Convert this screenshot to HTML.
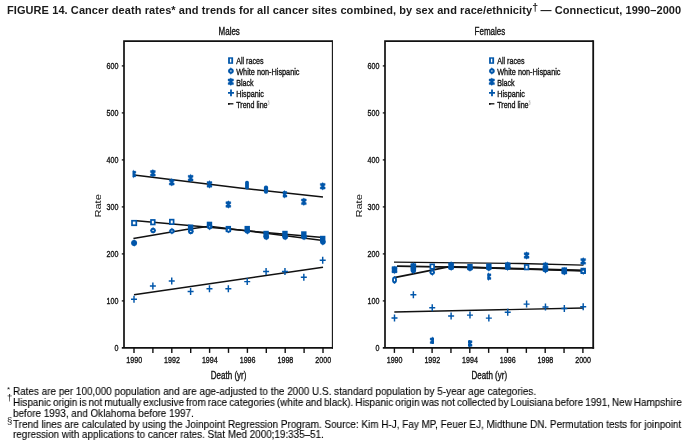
<!DOCTYPE html>
<html lang="en">
<head>
<meta charset="utf-8">
<title>FIGURE 14. Cancer death rates and trends for all cancer sites combined</title>
<style>
html,body{margin:0;padding:0;background:#fff;}
body{width:692px;height:446px;overflow:hidden;position:relative;font-family:"Liberation Sans",Arial,Helvetica,sans-serif;color:#111;}
svg{position:absolute;left:0;top:0;display:block;will-change:transform;font-family:"Liberation Sans",Arial,Helvetica,sans-serif;}
.ttl,.fn,.mk{will-change:transform;}
.ttl{position:absolute;left:7.2px;top:3.6px;margin:0;font-size:11px;font-weight:bold;line-height:13px;white-space:nowrap;letter-spacing:0.081px;color:#1a1a1a;}
.ttl sup{font-size:10.5px;line-height:0;vertical-align:2.6px;letter-spacing:-0.6px;}
.fn{position:absolute;left:13.1px;margin:0;font-size:10.67px;line-height:11px;transform-origin:0 0;white-space:nowrap;color:#000;-webkit-text-stroke:0.12px #000;}
.mk{position:absolute;font-size:8px;line-height:8px;color:#111;}
</style>
</head>
<body>
<svg width="692" height="446" viewBox="0 0 692 446">
<path d="M124.0 347.9V41.1H332.4" stroke="#111" stroke-width="1.7" fill="none" stroke-linejoin="miter"/>
<path d="M332.4 40.25V348.7" stroke="#111" stroke-width="1.1" fill="none"/>
<path d="M121.8 347.9H332.95" stroke="#111" stroke-width="1.6" fill="none"/>
<text transform="translate(118.4,351.04999999999995) scale(0.757,1)" font-size="9.4" text-anchor="end" fill="#111" stroke="#111" stroke-width="0.35" >0</text>
<path d="M121.8 300.9H124.0" stroke="#111" stroke-width="1.3"/>
<text transform="translate(118.4,304.04999999999995) scale(0.757,1)" font-size="9.4" text-anchor="end" fill="#111" stroke="#111" stroke-width="0.35" >100</text>
<path d="M121.8 253.89999999999998H124.0" stroke="#111" stroke-width="1.3"/>
<text transform="translate(118.4,257.04999999999995) scale(0.757,1)" font-size="9.4" text-anchor="end" fill="#111" stroke="#111" stroke-width="0.35" >200</text>
<path d="M121.8 206.89999999999998H124.0" stroke="#111" stroke-width="1.3"/>
<text transform="translate(118.4,210.04999999999998) scale(0.757,1)" font-size="9.4" text-anchor="end" fill="#111" stroke="#111" stroke-width="0.35" >300</text>
<path d="M121.8 159.89999999999998H124.0" stroke="#111" stroke-width="1.3"/>
<text transform="translate(118.4,163.04999999999998) scale(0.757,1)" font-size="9.4" text-anchor="end" fill="#111" stroke="#111" stroke-width="0.35" >400</text>
<path d="M121.8 112.89999999999998H124.0" stroke="#111" stroke-width="1.3"/>
<text transform="translate(118.4,116.04999999999998) scale(0.757,1)" font-size="9.4" text-anchor="end" fill="#111" stroke="#111" stroke-width="0.35" >500</text>
<path d="M121.8 65.89999999999998H124.0" stroke="#111" stroke-width="1.3"/>
<text transform="translate(118.4,69.04999999999998) scale(0.757,1)" font-size="9.4" text-anchor="end" fill="#111" stroke="#111" stroke-width="0.35" >600</text>
<path d="M134.00 347.9V352.9" stroke="#111" stroke-width="1.4"/>
<text transform="translate(134.2,362.9) scale(0.757,1)" font-size="9.4" text-anchor="middle" fill="#111" stroke="#111" stroke-width="0.35" >1990</text>
<path d="M152.90 347.9V352.9" stroke="#111" stroke-width="1.4"/>
<path d="M171.80 347.9V352.9" stroke="#111" stroke-width="1.4"/>
<text transform="translate(172.0,362.9) scale(0.757,1)" font-size="9.4" text-anchor="middle" fill="#111" stroke="#111" stroke-width="0.35" >1992</text>
<path d="M190.70 347.9V352.9" stroke="#111" stroke-width="1.4"/>
<path d="M209.60 347.9V352.9" stroke="#111" stroke-width="1.4"/>
<text transform="translate(209.8,362.9) scale(0.757,1)" font-size="9.4" text-anchor="middle" fill="#111" stroke="#111" stroke-width="0.35" >1994</text>
<path d="M228.50 347.9V352.9" stroke="#111" stroke-width="1.4"/>
<path d="M247.40 347.9V352.9" stroke="#111" stroke-width="1.4"/>
<text transform="translate(247.6,362.9) scale(0.757,1)" font-size="9.4" text-anchor="middle" fill="#111" stroke="#111" stroke-width="0.35" >1996</text>
<path d="M266.30 347.9V352.9" stroke="#111" stroke-width="1.4"/>
<path d="M285.20 347.9V352.9" stroke="#111" stroke-width="1.4"/>
<text transform="translate(285.4,362.9) scale(0.757,1)" font-size="9.4" text-anchor="middle" fill="#111" stroke="#111" stroke-width="0.35" >1998</text>
<path d="M304.10 347.9V352.9" stroke="#111" stroke-width="1.4"/>
<path d="M323.00 347.9V352.9" stroke="#111" stroke-width="1.4"/>
<text transform="translate(323.2,362.9) scale(0.757,1)" font-size="9.4" text-anchor="middle" fill="#111" stroke="#111" stroke-width="0.35" >2000</text>
<text transform="translate(229.2,34.9) scale(0.77,1)" font-size="10.4" text-anchor="middle" fill="#111" stroke="#111" stroke-width="0.35" >Males</text>
<text transform="translate(228.6,378.7) scale(0.77,1)" font-size="10.4" text-anchor="middle" fill="#111" stroke="#111" stroke-width="0.35" >Death (yr)</text>
<text transform="translate(101.3,205.9) rotate(-90) scale(1.14,1)" font-size="9.7" text-anchor="middle" fill="#111">Rate</text>
<rect x="228.10000000000002" y="57.3" width="5" height="6.5" fill="#0056aa"/><rect x="229.90000000000003" y="58.7" width="1.4" height="3.7" fill="#fff"/>
<text transform="translate(236.2,63.7) scale(0.757,1)" font-size="9.4" text-anchor="start" fill="#111" stroke="#111" stroke-width="0.35" >All races</text>
<circle cx="230.90" cy="71.00" r="2.75" fill="#0056aa"/><path d="M230.90 66.95 L232.40 71.00 L230.90 75.05 L229.40 71.00Z M227.70 71.00 L230.90 69.50 L234.10 71.00 L230.90 72.50Z" fill="#0056aa"/><circle cx="230.90" cy="71.00" r="0.7" fill="#fff"/>
<text transform="translate(236.2,74.8) scale(0.778,1)" font-size="9.4" text-anchor="start" fill="#111" stroke="#111" stroke-width="0.35" >White non-Hispanic</text>
<path d="M230.80 78.00 L231.75 78.85 L233.55 79.00 L233.55 80.95 L232.05 81.50 L232.05 82.10 L233.55 82.65 L233.55 84.60 L231.75 84.75 L230.80 85.60 L229.85 84.75 L228.05 84.60 L228.05 82.65 L229.55 82.10 L229.55 81.50 L228.05 80.95 L228.05 79.00 L229.85 78.85Z" fill="#0056aa" stroke="#0056aa" stroke-width="0.3" stroke-linejoin="round"/>
<text transform="translate(236.2,85.7) scale(0.757,1)" font-size="9.4" text-anchor="start" fill="#111" stroke="#111" stroke-width="0.35" >Black</text>
<path d="M231.00 89.60V96.20M228.00 92.90H234.00" stroke="#0056aa" stroke-width="1.8" fill="none"/>
<text transform="translate(236.2,96.7) scale(0.77,1)" font-size="9.4" text-anchor="start" fill="#111" stroke="#111" stroke-width="0.35" >Hispanic</text>
<path d="M228.0 103.8H233.4" stroke="#111" stroke-width="1.3"/><path d="M228.0 103.9H229.60000000000002" stroke="#111" stroke-width="1.9"/>
<text transform="translate(236.2,107.5) scale(0.757,1)" font-size="9.4" text-anchor="start" fill="#111" stroke="#111" stroke-width="0.35" >Trend line<tspan font-size="5" dy="-4" fill="#999" stroke="none">§</tspan></text>
<path d="M385.0 347.9V41.1H593.2" stroke="#111" stroke-width="1.7" fill="none" stroke-linejoin="miter"/>
<path d="M593.2 40.25V348.7" stroke="#111" stroke-width="1.8" fill="none"/>
<path d="M382.8 347.9H594.1" stroke="#111" stroke-width="1.6" fill="none"/>
<text transform="translate(379.4,351.04999999999995) scale(0.757,1)" font-size="9.4" text-anchor="end" fill="#111" stroke="#111" stroke-width="0.35" >0</text>
<path d="M382.8 300.9H385.0" stroke="#111" stroke-width="1.3"/>
<text transform="translate(379.4,304.04999999999995) scale(0.757,1)" font-size="9.4" text-anchor="end" fill="#111" stroke="#111" stroke-width="0.35" >100</text>
<path d="M382.8 253.89999999999998H385.0" stroke="#111" stroke-width="1.3"/>
<text transform="translate(379.4,257.04999999999995) scale(0.757,1)" font-size="9.4" text-anchor="end" fill="#111" stroke="#111" stroke-width="0.35" >200</text>
<path d="M382.8 206.89999999999998H385.0" stroke="#111" stroke-width="1.3"/>
<text transform="translate(379.4,210.04999999999998) scale(0.757,1)" font-size="9.4" text-anchor="end" fill="#111" stroke="#111" stroke-width="0.35" >300</text>
<path d="M382.8 159.89999999999998H385.0" stroke="#111" stroke-width="1.3"/>
<text transform="translate(379.4,163.04999999999998) scale(0.757,1)" font-size="9.4" text-anchor="end" fill="#111" stroke="#111" stroke-width="0.35" >400</text>
<path d="M382.8 112.89999999999998H385.0" stroke="#111" stroke-width="1.3"/>
<text transform="translate(379.4,116.04999999999998) scale(0.757,1)" font-size="9.4" text-anchor="end" fill="#111" stroke="#111" stroke-width="0.35" >500</text>
<path d="M382.8 65.89999999999998H385.0" stroke="#111" stroke-width="1.3"/>
<text transform="translate(379.4,69.04999999999998) scale(0.757,1)" font-size="9.4" text-anchor="end" fill="#111" stroke="#111" stroke-width="0.35" >600</text>
<path d="M394.40 347.9V352.9" stroke="#111" stroke-width="1.4"/>
<text transform="translate(394.6,362.9) scale(0.757,1)" font-size="9.4" text-anchor="middle" fill="#111" stroke="#111" stroke-width="0.35" >1990</text>
<path d="M413.25 347.9V352.9" stroke="#111" stroke-width="1.4"/>
<path d="M432.10 347.9V352.9" stroke="#111" stroke-width="1.4"/>
<text transform="translate(432.3,362.9) scale(0.757,1)" font-size="9.4" text-anchor="middle" fill="#111" stroke="#111" stroke-width="0.35" >1992</text>
<path d="M450.95 347.9V352.9" stroke="#111" stroke-width="1.4"/>
<path d="M469.80 347.9V352.9" stroke="#111" stroke-width="1.4"/>
<text transform="translate(470.0,362.9) scale(0.757,1)" font-size="9.4" text-anchor="middle" fill="#111" stroke="#111" stroke-width="0.35" >1994</text>
<path d="M488.65 347.9V352.9" stroke="#111" stroke-width="1.4"/>
<path d="M507.50 347.9V352.9" stroke="#111" stroke-width="1.4"/>
<text transform="translate(507.7,362.9) scale(0.757,1)" font-size="9.4" text-anchor="middle" fill="#111" stroke="#111" stroke-width="0.35" >1996</text>
<path d="M526.35 347.9V352.9" stroke="#111" stroke-width="1.4"/>
<path d="M545.20 347.9V352.9" stroke="#111" stroke-width="1.4"/>
<text transform="translate(545.4,362.9) scale(0.757,1)" font-size="9.4" text-anchor="middle" fill="#111" stroke="#111" stroke-width="0.35" >1998</text>
<path d="M564.05 347.9V352.9" stroke="#111" stroke-width="1.4"/>
<path d="M582.90 347.9V352.9" stroke="#111" stroke-width="1.4"/>
<text transform="translate(583.1,362.9) scale(0.757,1)" font-size="9.4" text-anchor="middle" fill="#111" stroke="#111" stroke-width="0.35" >2000</text>
<text transform="translate(489.9,34.9) scale(0.77,1)" font-size="10.4" text-anchor="middle" fill="#111" stroke="#111" stroke-width="0.35" >Females</text>
<text transform="translate(489.29999999999995,378.7) scale(0.77,1)" font-size="10.4" text-anchor="middle" fill="#111" stroke="#111" stroke-width="0.35" >Death (yr)</text>
<text transform="translate(362.3,205.9) rotate(-90) scale(1.14,1)" font-size="9.7" text-anchor="middle" fill="#111">Rate</text>
<rect x="489.1" y="57.3" width="5" height="6.5" fill="#0056aa"/><rect x="490.90000000000003" y="58.7" width="1.4" height="3.7" fill="#fff"/>
<text transform="translate(497.2,63.7) scale(0.757,1)" font-size="9.4" text-anchor="start" fill="#111" stroke="#111" stroke-width="0.35" >All races</text>
<circle cx="491.90" cy="71.00" r="2.75" fill="#0056aa"/><path d="M491.90 66.95 L493.40 71.00 L491.90 75.05 L490.40 71.00Z M488.70 71.00 L491.90 69.50 L495.10 71.00 L491.90 72.50Z" fill="#0056aa"/><circle cx="491.90" cy="71.00" r="0.7" fill="#fff"/>
<text transform="translate(497.2,74.8) scale(0.778,1)" font-size="9.4" text-anchor="start" fill="#111" stroke="#111" stroke-width="0.35" >White non-Hispanic</text>
<path d="M491.80 78.00 L492.75 78.85 L494.55 79.00 L494.55 80.95 L493.05 81.50 L493.05 82.10 L494.55 82.65 L494.55 84.60 L492.75 84.75 L491.80 85.60 L490.85 84.75 L489.05 84.60 L489.05 82.65 L490.55 82.10 L490.55 81.50 L489.05 80.95 L489.05 79.00 L490.85 78.85Z" fill="#0056aa" stroke="#0056aa" stroke-width="0.3" stroke-linejoin="round"/>
<text transform="translate(497.2,85.7) scale(0.757,1)" font-size="9.4" text-anchor="start" fill="#111" stroke="#111" stroke-width="0.35" >Black</text>
<path d="M492.00 89.60V96.20M489.00 92.90H495.00" stroke="#0056aa" stroke-width="1.8" fill="none"/>
<text transform="translate(497.2,96.7) scale(0.77,1)" font-size="9.4" text-anchor="start" fill="#111" stroke="#111" stroke-width="0.35" >Hispanic</text>
<path d="M489.0 103.8H494.40000000000003" stroke="#111" stroke-width="1.3"/><path d="M489.0 103.9H490.6" stroke="#111" stroke-width="1.9"/>
<text transform="translate(497.2,107.5) scale(0.757,1)" font-size="9.4" text-anchor="start" fill="#111" stroke="#111" stroke-width="0.35" >Trend line<tspan font-size="5" dy="-4" fill="#999" stroke="none">§</tspan></text>
<path d="M134.00 175.10 L240.00 187.90 L323.00 197.10" stroke="#111" stroke-width="1.55" fill="none"/>
<path d="M136.50 220.80 L323.00 237.60" stroke="#111" stroke-width="1.5" fill="none"/>
<path d="M133.40 238.40 L186.00 229.40 L209.30 226.30 L323.00 240.40" stroke="#111" stroke-width="1.5" fill="none"/>
<path d="M134.00 294.80 L323.00 267.20" stroke="#111" stroke-width="1.55" fill="none"/>
<clipPath id="cm0"><rect x="132.5" y="160" width="20" height="30"/></clipPath>
<path d="M133.40 170.20 L134.35 171.05 L135.90 171.20 L135.90 173.15 L134.65 173.70 L134.65 174.30 L135.90 174.85 L135.90 176.80 L134.35 176.95 L133.40 177.80 L132.45 176.95 L130.90 176.80 L130.90 174.85 L132.15 174.30 L132.15 173.70 L130.90 173.15 L130.90 171.20 L132.45 171.05Z" fill="#0056aa" stroke="#0056aa" stroke-width="0.3" stroke-linejoin="round" clip-path="url(#cm0)"/>
<path d="M152.87 169.50 L153.82 170.35 L155.37 170.50 L155.37 172.45 L154.12 173.00 L154.12 173.60 L155.37 174.15 L155.37 176.10 L153.82 176.25 L152.87 177.10 L151.92 176.25 L150.37 176.10 L150.37 174.15 L151.62 173.60 L151.62 173.00 L150.37 172.45 L150.37 170.50 L151.92 170.35Z" fill="#0056aa" stroke="#0056aa" stroke-width="0.3" stroke-linejoin="round"/>
<path d="M171.74 178.40 L172.69 179.25 L174.24 179.40 L174.24 181.35 L172.99 181.90 L172.99 182.50 L174.24 183.05 L174.24 185.00 L172.69 185.15 L171.74 186.00 L170.79 185.15 L169.24 185.00 L169.24 183.05 L170.49 182.50 L170.49 181.90 L169.24 181.35 L169.24 179.40 L170.79 179.25Z" fill="#0056aa" stroke="#0056aa" stroke-width="0.3" stroke-linejoin="round"/>
<path d="M190.61 174.30 L191.56 175.15 L193.11 175.30 L193.11 177.25 L191.86 177.80 L191.86 178.40 L193.11 178.95 L193.11 180.90 L191.56 181.05 L190.61 181.90 L189.66 181.05 L188.11 180.90 L188.11 178.95 L189.36 178.40 L189.36 177.80 L188.11 177.25 L188.11 175.30 L189.66 175.15Z" fill="#0056aa" stroke="#0056aa" stroke-width="0.3" stroke-linejoin="round"/>
<path d="M209.48 180.60 L210.43 181.45 L211.98 181.60 L211.98 183.55 L210.73 184.10 L210.73 184.70 L211.98 185.25 L211.98 187.20 L210.43 187.35 L209.48 188.20 L208.53 187.35 L206.98 187.20 L206.98 185.25 L208.23 184.70 L208.23 184.10 L206.98 183.55 L206.98 181.60 L208.53 181.45Z" fill="#0056aa" stroke="#0056aa" stroke-width="0.3" stroke-linejoin="round"/>
<path d="M228.35 200.70 L229.30 201.55 L230.85 201.70 L230.85 203.65 L229.60 204.20 L229.60 204.80 L230.85 205.35 L230.85 207.30 L229.30 207.45 L228.35 208.30 L227.40 207.45 L225.85 207.30 L225.85 205.35 L227.10 204.80 L227.10 204.20 L225.85 203.65 L225.85 201.70 L227.40 201.55Z" fill="#0056aa" stroke="#0056aa" stroke-width="0.3" stroke-linejoin="round"/>
<rect x="245.1" y="180.8" width="3.8" height="8.6" rx="1.7" fill="#0056aa"/>
<rect x="263.9" y="185.6" width="4.2" height="8.1" rx="1.9" fill="#0056aa"/>
<clipPath id="cm8"><rect x="282.8" y="185" width="14" height="20"/></clipPath>
<path d="M284.50 190.50 L285.45 191.35 L287.00 191.50 L287.00 193.45 L285.75 194.00 L285.75 194.60 L287.00 195.15 L287.00 197.10 L285.45 197.25 L284.50 198.10 L283.55 197.25 L282.00 197.10 L282.00 195.15 L283.25 194.60 L283.25 194.00 L282.00 193.45 L282.00 191.50 L283.55 191.35Z" fill="#0056aa" stroke="#0056aa" stroke-width="0.3" stroke-linejoin="round" clip-path="url(#cm8)"/>
<path d="M303.83 198.00 L304.78 198.85 L306.33 199.00 L306.33 200.95 L305.08 201.50 L305.08 202.10 L306.33 202.65 L306.33 204.60 L304.78 204.75 L303.83 205.60 L302.88 204.75 L301.33 204.60 L301.33 202.65 L302.58 202.10 L302.58 201.50 L301.33 200.95 L301.33 199.00 L302.88 198.85Z" fill="#0056aa" stroke="#0056aa" stroke-width="0.3" stroke-linejoin="round"/>
<path d="M322.70 182.40 L323.65 183.25 L325.20 183.40 L325.20 185.35 L323.95 185.90 L323.95 186.50 L325.20 187.05 L325.20 189.00 L323.65 189.15 L322.70 190.00 L321.75 189.15 L320.20 189.00 L320.20 187.05 L321.45 186.50 L321.45 185.90 L320.20 185.35 L320.20 183.40 L321.75 183.25Z" fill="#0056aa" stroke="#0056aa" stroke-width="0.3" stroke-linejoin="round"/>
<path d="M134.00 295.70V302.70M131.00 299.20H137.00" stroke="#0056aa" stroke-width="1.45" fill="none"/>
<path d="M152.87 282.40V289.40M149.87 285.90H155.87" stroke="#0056aa" stroke-width="1.45" fill="none"/>
<path d="M171.74 277.40V284.40M168.74 280.90H174.74" stroke="#0056aa" stroke-width="1.45" fill="none"/>
<path d="M190.61 288.00V295.00M187.61 291.50H193.61" stroke="#0056aa" stroke-width="1.45" fill="none"/>
<path d="M209.48 285.30V292.30M206.48 288.80H212.48" stroke="#0056aa" stroke-width="1.45" fill="none"/>
<path d="M228.35 285.30V292.30M225.35 288.80H231.35" stroke="#0056aa" stroke-width="1.45" fill="none"/>
<path d="M247.22 278.10V285.10M244.22 281.60H250.22" stroke="#0056aa" stroke-width="1.45" fill="none"/>
<path d="M266.09 267.90V274.90M263.09 271.40H269.09" stroke="#0056aa" stroke-width="1.45" fill="none"/>
<path d="M284.96 267.90V274.90M281.96 271.40H287.96" stroke="#0056aa" stroke-width="1.45" fill="none"/>
<path d="M303.83 273.80V280.80M300.83 277.30H306.83" stroke="#0056aa" stroke-width="1.45" fill="none"/>
<path d="M322.70 256.80V263.80M319.70 260.30H325.70" stroke="#0056aa" stroke-width="1.45" fill="none"/>
<rect x="132.00" y="220.75" width="4.30" height="4.50" fill="#fff" stroke="#0056aa" stroke-width="1.7"/>
<rect x="151.02" y="219.95" width="3.70" height="4.50" fill="#fff" stroke="#0056aa" stroke-width="1.7"/>
<rect x="169.89" y="219.65" width="3.70" height="4.50" fill="#fff" stroke="#0056aa" stroke-width="1.7"/>
<rect x="188.76" y="225.35" width="3.70" height="4.50" fill="#0056aa" stroke="#0056aa" stroke-width="1.7"/>
<rect x="207.63" y="222.55" width="3.70" height="4.50" fill="#0056aa" stroke="#0056aa" stroke-width="1.7"/>
<rect x="226.50" y="226.75" width="3.70" height="4.50" fill="#0056aa" stroke="#0056aa" stroke-width="1.7"/>
<rect x="245.37" y="226.75" width="3.70" height="4.50" fill="#0056aa" stroke="#0056aa" stroke-width="1.7"/>
<rect x="264.24" y="231.65" width="3.70" height="4.50" fill="#0056aa" stroke="#0056aa" stroke-width="1.7"/>
<rect x="283.11" y="231.65" width="3.70" height="4.50" fill="#0056aa" stroke="#0056aa" stroke-width="1.7"/>
<rect x="301.98" y="232.15" width="3.70" height="4.50" fill="#0056aa" stroke="#0056aa" stroke-width="1.7"/>
<rect x="320.85" y="236.65" width="3.70" height="4.50" fill="#0056aa" stroke="#0056aa" stroke-width="1.7"/>
<circle cx="134.10" cy="243.00" r="2.95" fill="#0056aa"/><path d="M134.10 238.90 L135.60 243.00 L134.10 247.10 L132.60 243.00Z M130.80 243.00 L134.10 241.50 L137.40 243.00 L134.10 244.50Z" fill="#0056aa"/>
<circle cx="153.07" cy="230.40" r="2.7" fill="#0056aa"/><path d="M153.07 226.75 L154.57 230.40 L153.07 234.05 L151.57 230.40Z M149.82 230.40 L153.07 228.90 L156.32 230.40 L153.07 231.90Z" fill="#0056aa"/><circle cx="153.07" cy="230.40" r="0.75" fill="#fff"/>
<circle cx="171.94" cy="231.10" r="2.7" fill="#0056aa"/><path d="M171.94 227.45 L173.44 231.10 L171.94 234.75 L170.44 231.10Z M168.69 231.10 L171.94 229.60 L175.19 231.10 L171.94 232.60Z" fill="#0056aa"/><circle cx="171.94" cy="231.10" r="0.72" fill="#fff"/>
<circle cx="190.81" cy="231.40" r="2.7" fill="#0056aa"/><path d="M190.81 227.75 L192.31 231.40 L190.81 235.05 L189.31 231.40Z M187.56 231.40 L190.81 229.90 L194.06 231.40 L190.81 232.90Z" fill="#0056aa"/><circle cx="190.81" cy="231.40" r="0.72" fill="#fff"/>
<circle cx="209.68" cy="226.80" r="2.7" fill="#0056aa"/><path d="M209.68 223.15 L211.18 226.80 L209.68 230.45 L208.18 226.80Z M206.43 226.80 L209.68 225.30 L212.93 226.80 L209.68 228.30Z" fill="#0056aa"/><circle cx="209.68" cy="226.80" r="0.5" fill="#fff"/>
<circle cx="228.55" cy="229.90" r="2.7" fill="#0056aa"/><path d="M228.55 226.25 L230.05 229.90 L228.55 233.55 L227.05 229.90Z M225.30 229.90 L228.55 228.40 L231.80 229.90 L228.55 231.40Z" fill="#0056aa"/><circle cx="228.55" cy="229.90" r="0.85" fill="#fff"/>
<circle cx="247.42" cy="231.00" r="2.7" fill="#0056aa"/><path d="M247.42 227.35 L248.92 231.00 L247.42 234.65 L245.92 231.00Z M244.17 231.00 L247.42 229.50 L250.67 231.00 L247.42 232.50Z" fill="#0056aa"/>
<circle cx="266.29" cy="236.90" r="2.7" fill="#0056aa"/><path d="M266.29 233.25 L267.79 236.90 L266.29 240.55 L264.79 236.90Z M263.04 236.90 L266.29 235.40 L269.54 236.90 L266.29 238.40Z" fill="#0056aa"/>
<circle cx="285.16" cy="236.90" r="2.7" fill="#0056aa"/><path d="M285.16 233.25 L286.66 236.90 L285.16 240.55 L283.66 236.90Z M281.91 236.90 L285.16 235.40 L288.41 236.90 L285.16 238.40Z" fill="#0056aa"/>
<circle cx="304.03" cy="236.90" r="2.7" fill="#0056aa"/><path d="M304.03 233.25 L305.53 236.90 L304.03 240.55 L302.53 236.90Z M300.78 236.90 L304.03 235.40 L307.28 236.90 L304.03 238.40Z" fill="#0056aa"/>
<circle cx="322.90" cy="242.00" r="2.7" fill="#0056aa"/><path d="M322.90 238.35 L324.40 242.00 L322.90 245.65 L321.40 242.00Z M319.65 242.00 L322.90 240.50 L326.15 242.00 L322.90 243.50Z" fill="#0056aa"/>
<path d="M394.00 262.20 L520.00 263.50 L583.40 265.20" stroke="#111" stroke-width="1.3" fill="none"/>
<path d="M397.00 266.20 L466.00 267.30 L520.00 268.60 L583.40 270.40" stroke="#111" stroke-width="1.7" fill="none"/>
<path d="M394.30 277.70 L449.50 266.60 L520.00 269.00 L583.40 270.90" stroke="#111" stroke-width="1.7" fill="none"/>
<path d="M394.30 312.00 L583.30 308.00" stroke="#111" stroke-width="1.4" fill="none"/>
<clipPath id="cf2"><rect x="420" y="330" width="14" height="14"/></clipPath>
<clipPath id="cf4"><rect x="468.1" y="340" width="14" height="14"/></clipPath>
<clipPath id="cf5"><rect x="487.2" y="270" width="14" height="14"/></clipPath>
<path d="M394.50 266.20 L395.45 267.05 L397.00 267.20 L397.00 269.15 L395.75 269.70 L395.75 270.30 L397.00 270.85 L397.00 272.80 L395.45 272.95 L394.50 273.80 L393.55 272.95 L392.00 272.80 L392.00 270.85 L393.25 270.30 L393.25 269.70 L392.00 269.15 L392.00 267.20 L393.55 267.05Z" fill="#0056aa" stroke="#0056aa" stroke-width="0.3" stroke-linejoin="round"/>
<path d="M413.37 262.60 L414.32 263.45 L415.87 263.60 L415.87 265.55 L414.62 266.10 L414.62 266.70 L415.87 267.25 L415.87 269.20 L414.32 269.35 L413.37 270.20 L412.42 269.35 L410.87 269.20 L410.87 267.25 L412.12 266.70 L412.12 266.10 L410.87 265.55 L410.87 263.60 L412.42 263.45Z" fill="#0056aa" stroke="#0056aa" stroke-width="0.3" stroke-linejoin="round"/>
<path d="M432.60 337.00 L433.55 337.85 L435.10 338.00 L435.10 339.95 L433.85 340.50 L433.85 341.10 L435.10 341.65 L435.10 343.60 L433.55 343.75 L432.60 344.60 L431.65 343.75 L430.10 343.60 L430.10 341.65 L431.35 341.10 L431.35 340.50 L430.10 339.95 L430.10 338.00 L431.65 337.85Z" fill="#0056aa" stroke="#0056aa" stroke-width="0.3" stroke-linejoin="round" clip-path="url(#cf2)"/>
<path d="M451.11 261.60 L452.06 262.45 L453.61 262.60 L453.61 264.55 L452.36 265.10 L452.36 265.70 L453.61 266.25 L453.61 268.20 L452.06 268.35 L451.11 269.20 L450.16 268.35 L448.61 268.20 L448.61 266.25 L449.86 265.70 L449.86 265.10 L448.61 264.55 L448.61 262.60 L450.16 262.45Z" fill="#0056aa" stroke="#0056aa" stroke-width="0.3" stroke-linejoin="round"/>
<path d="M469.60 339.70 L470.55 340.55 L472.10 340.70 L472.10 342.65 L470.85 343.20 L470.85 343.80 L472.10 344.35 L472.10 346.30 L470.55 346.45 L469.60 347.30 L468.65 346.45 L467.10 346.30 L467.10 344.35 L468.35 343.80 L468.35 343.20 L467.10 342.65 L467.10 340.70 L468.65 340.55Z" fill="#0056aa" stroke="#0056aa" stroke-width="0.3" stroke-linejoin="round" clip-path="url(#cf4)"/>
<path d="M488.50 272.80 L489.45 273.65 L491.00 273.80 L491.00 275.75 L489.75 276.30 L489.75 276.90 L491.00 277.45 L491.00 279.40 L489.45 279.55 L488.50 280.40 L487.55 279.55 L486.00 279.40 L486.00 277.45 L487.25 276.90 L487.25 276.30 L486.00 275.75 L486.00 273.80 L487.55 273.65Z" fill="#0056aa" stroke="#0056aa" stroke-width="0.3" stroke-linejoin="round" clip-path="url(#cf5)"/>
<path d="M507.72 261.70 L508.67 262.55 L510.22 262.70 L510.22 264.65 L508.97 265.20 L508.97 265.80 L510.22 266.35 L510.22 268.30 L508.67 268.45 L507.72 269.30 L506.77 268.45 L505.22 268.30 L505.22 266.35 L506.47 265.80 L506.47 265.20 L505.22 264.65 L505.22 262.70 L506.77 262.55Z" fill="#0056aa" stroke="#0056aa" stroke-width="0.3" stroke-linejoin="round"/>
<path d="M526.59 251.70 L527.54 252.55 L529.09 252.70 L529.09 254.65 L527.84 255.20 L527.84 255.80 L529.09 256.35 L529.09 258.30 L527.54 258.45 L526.59 259.30 L525.64 258.45 L524.09 258.30 L524.09 256.35 L525.34 255.80 L525.34 255.20 L524.09 254.65 L524.09 252.70 L525.64 252.55Z" fill="#0056aa" stroke="#0056aa" stroke-width="0.3" stroke-linejoin="round"/>
<path d="M545.46 262.00 L546.41 262.85 L547.96 263.00 L547.96 264.95 L546.71 265.50 L546.71 266.10 L547.96 266.65 L547.96 268.60 L546.41 268.75 L545.46 269.60 L544.51 268.75 L542.96 268.60 L542.96 266.65 L544.21 266.10 L544.21 265.50 L542.96 264.95 L542.96 263.00 L544.51 262.85Z" fill="#0056aa" stroke="#0056aa" stroke-width="0.3" stroke-linejoin="round"/>
<path d="M564.33 267.40 L565.28 268.25 L566.83 268.40 L566.83 270.35 L565.58 270.90 L565.58 271.50 L566.83 272.05 L566.83 274.00 L565.28 274.15 L564.33 275.00 L563.38 274.15 L561.83 274.00 L561.83 272.05 L563.08 271.50 L563.08 270.90 L561.83 270.35 L561.83 268.40 L563.38 268.25Z" fill="#0056aa" stroke="#0056aa" stroke-width="0.3" stroke-linejoin="round"/>
<path d="M583.20 257.60 L584.15 258.45 L585.70 258.60 L585.70 260.55 L584.45 261.10 L584.45 261.70 L585.70 262.25 L585.70 264.20 L584.15 264.35 L583.20 265.20 L582.25 264.35 L580.70 264.20 L580.70 262.25 L581.95 261.70 L581.95 261.10 L580.70 260.55 L580.70 258.60 L582.25 258.45Z" fill="#0056aa" stroke="#0056aa" stroke-width="0.3" stroke-linejoin="round"/>
<path d="M394.50 314.40V321.40M391.50 317.90H397.50" stroke="#0056aa" stroke-width="1.45" fill="none"/>
<path d="M413.37 291.20V298.20M410.37 294.70H416.37" stroke="#0056aa" stroke-width="1.45" fill="none"/>
<path d="M432.24 304.20V311.20M429.24 307.70H435.24" stroke="#0056aa" stroke-width="1.45" fill="none"/>
<path d="M451.11 312.50V319.50M448.11 316.00H454.11" stroke="#0056aa" stroke-width="1.45" fill="none"/>
<path d="M469.98 311.60V318.60M466.98 315.10H472.98" stroke="#0056aa" stroke-width="1.45" fill="none"/>
<path d="M488.85 314.60V321.60M485.85 318.10H491.85" stroke="#0056aa" stroke-width="1.45" fill="none"/>
<path d="M507.72 308.80V315.80M504.72 312.30H510.72" stroke="#0056aa" stroke-width="1.45" fill="none"/>
<path d="M526.59 300.60V307.60M523.59 304.10H529.59" stroke="#0056aa" stroke-width="1.45" fill="none"/>
<path d="M545.46 303.40V310.40M542.46 306.90H548.46" stroke="#0056aa" stroke-width="1.45" fill="none"/>
<path d="M564.33 304.90V311.90M561.33 308.40H567.33" stroke="#0056aa" stroke-width="1.45" fill="none"/>
<path d="M583.20 303.30V310.30M580.20 306.80H586.20" stroke="#0056aa" stroke-width="1.45" fill="none"/>
<rect x="392.65" y="267.25" width="3.70" height="4.50" fill="#0056aa" stroke="#0056aa" stroke-width="1.7"/>
<rect x="411.52" y="264.65" width="3.70" height="4.50" fill="#0056aa" stroke="#0056aa" stroke-width="1.7"/>
<rect x="430.39" y="264.35" width="3.70" height="4.50" fill="#fff" stroke="#0056aa" stroke-width="1.7"/>
<rect x="449.26" y="264.05" width="3.70" height="4.50" fill="#0056aa" stroke="#0056aa" stroke-width="1.7"/>
<rect x="468.13" y="264.75" width="3.70" height="4.50" fill="#0056aa" stroke="#0056aa" stroke-width="1.7"/>
<rect x="487.00" y="264.25" width="3.70" height="4.50" fill="#0056aa" stroke="#0056aa" stroke-width="1.7"/>
<rect x="505.87" y="264.25" width="3.70" height="4.50" fill="#0056aa" stroke="#0056aa" stroke-width="1.7"/>
<rect x="524.74" y="264.95" width="3.70" height="4.50" fill="#fff" stroke="#0056aa" stroke-width="1.7"/>
<rect x="543.61" y="266.25" width="3.70" height="4.50" fill="#0056aa" stroke="#0056aa" stroke-width="1.7"/>
<rect x="562.48" y="268.25" width="3.70" height="4.50" fill="#0056aa" stroke="#0056aa" stroke-width="1.7"/>
<rect x="581.35" y="268.65" width="3.70" height="4.50" fill="#0056aa" stroke="#0056aa" stroke-width="1.7"/>
<ellipse cx="394.5" cy="279.9" rx="2.45" ry="3.45" fill="#0056aa"/><path d="M394.5 275.9l1.2 1.5h-2.4zM394.5 283.9l1.2 -1.5h-2.4z" fill="#0056aa"/><ellipse cx="394.5" cy="279.9" rx="0.65" ry="1.35" fill="#fff"/>
<circle cx="413.37" cy="270.50" r="2.65" fill="#0056aa"/><path d="M413.37 266.65 L414.87 270.50 L413.37 274.35 L411.87 270.50Z M410.37 270.50 L413.37 269.00 L416.37 270.50 L413.37 272.00Z" fill="#0056aa"/>
<circle cx="432.24" cy="272.30" r="2.65" fill="#0056aa"/><path d="M432.24 268.45 L433.74 272.30 L432.24 276.15 L430.74 272.30Z M429.24 272.30 L432.24 270.80 L435.24 272.30 L432.24 273.80Z" fill="#0056aa"/><circle cx="432.24" cy="272.30" r="0.8" fill="#fff"/>
<circle cx="451.11" cy="267.40" r="2.65" fill="#0056aa"/><path d="M451.11 263.55 L452.61 267.40 L451.11 271.25 L449.61 267.40Z M448.11 267.40 L451.11 265.90 L454.11 267.40 L451.11 268.90Z" fill="#0056aa"/>
<circle cx="469.98" cy="268.20" r="2.65" fill="#0056aa"/><path d="M469.98 264.35 L471.48 268.20 L469.98 272.05 L468.48 268.20Z M466.98 268.20 L469.98 266.70 L472.98 268.20 L469.98 269.70Z" fill="#0056aa"/>
<circle cx="488.85" cy="268.00" r="2.65" fill="#0056aa"/><path d="M488.85 264.15 L490.35 268.00 L488.85 271.85 L487.35 268.00Z M485.85 268.00 L488.85 266.50 L491.85 268.00 L488.85 269.50Z" fill="#0056aa"/>
<circle cx="507.72" cy="267.30" r="2.65" fill="#0056aa"/><path d="M507.72 263.45 L509.22 267.30 L507.72 271.15 L506.22 267.30Z M504.72 267.30 L507.72 265.80 L510.72 267.30 L507.72 268.80Z" fill="#0056aa"/>
<circle cx="545.46" cy="269.80" r="2.65" fill="#0056aa"/><path d="M545.46 265.95 L546.96 269.80 L545.46 273.65 L543.96 269.80Z M542.46 269.80 L545.46 268.30 L548.46 269.80 L545.46 271.30Z" fill="#0056aa"/>
<circle cx="564.33" cy="271.40" r="2.65" fill="#0056aa"/><path d="M564.33 267.55 L565.83 271.40 L564.33 275.25 L562.83 271.40Z M561.33 271.40 L564.33 269.90 L567.33 271.40 L564.33 272.90Z" fill="#0056aa"/>
<circle cx="583.20" cy="271.40" r="2.65" fill="#0056aa"/><path d="M583.20 267.55 L584.70 271.40 L583.20 275.25 L581.70 271.40Z M580.20 271.40 L583.20 269.90 L586.20 271.40 L583.20 272.90Z" fill="#0056aa"/><circle cx="583.20" cy="271.40" r="0.8" fill="#fff"/>
</svg>
<h1 class="ttl">FIGURE 14. Cancer death rates* and trends for all cancer sites combined, by sex and race/ethnicity<sup>†</sup> — Connecticut, 1990–2000</h1>
<span class="mk" style="left:7.3px;top:386.4px">*</span>
<p class="fn" style="top:385.9px;transform:scaleX(0.9313)">Rates are per 100,000 population and are age-adjusted to the 2000 U.S. standard population by 5-year age categories.</p>
<span class="mk" style="left:7.4px;top:393.6px;font-size:9.5px">†</span>
<p class="fn" style="top:396.5px;transform:scaleX(0.93);word-spacing:-0.777px">Hispanic origin is not mutually exclusive from race categories (white and black). Hispanic origin was not collected by Louisiana before 1991, New Hampshire</p>
<p class="fn" style="top:407.5px;transform:scaleX(0.9277)">before 1993, and Oklahoma before 1997.</p>
<span class="mk" style="left:6.9px;top:416.5px;font-size:9.5px">§</span>
<p class="fn" style="top:418.6px;transform:scaleX(0.9317)">Trend lines are calculated by using the Joinpoint Regression Program. Source: Kim H-J, Fay MP, Feuer EJ, Midthune DN. Permutation tests for joinpoint</p>
<p class="fn" style="top:429.4px;transform:scaleX(0.9253)">regression with applications to cancer rates. Stat Med 2000;19:335–51.</p>
</body>
</html>
